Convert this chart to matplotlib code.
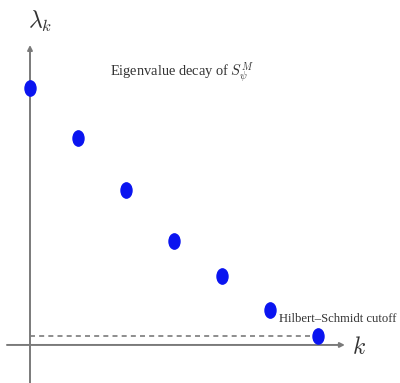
import matplotlib
matplotlib.use("Agg")
import matplotlib.pyplot as plt
from matplotlib.path import Path
from matplotlib.transforms import Affine2D
import numpy as np

plt.rcParams.update({
    "font.family": "serif",
    "font.serif": ["Liberation Serif", "DejaVu Serif"],
    "mathtext.fontset": "cm",
})

BLUE = "#0a14f0"
GREY = "#7a7a7a"

# data
k_index = [0, 1, 2, 3, 4, 5, 6]
eigenvalues = [1.0, 0.805, 0.603, 0.405, 0.268, 0.136, 0.035]
cutoff = 0.035

fig = plt.figure(figsize=(4.0, 3.83), dpi=100)
ax = fig.add_axes([0, 0, 1, 1])
ax.set_xlim(-0.625, 7.708)
ax.set_ylim(-0.148, 1.342)
ax.axis("off")

# axes with arrows
ax.annotate("", xy=(6.56, 0), xytext=(-0.48, 0),
            arrowprops=dict(arrowstyle="-|>", color=GREY, lw=1.4,
                            mutation_scale=7, shrinkA=0, shrinkB=0))
ax.annotate("", xy=(0, 1.167), xytext=(0, -0.148),
            arrowprops=dict(arrowstyle="-|>", color=GREY, lw=1.4,
                            mutation_scale=7, shrinkA=0, shrinkB=0))

# cutoff line
ax.plot([0, k_index[-1]], [cutoff, cutoff], color=GREY, lw=1.2,
        ls=(0, (3, 2.5)))

# slightly tall elliptical markers
ellipse = Path.unit_circle().transformed(Affine2D().scale(0.72, 1.0))
ax.plot(k_index, eigenvalues, ls="none", marker=ellipse, markersize=11,
        color=BLUE, zorder=3)

ax.text(0.22, 1.26, r"$\lambda_k$", fontsize=17, ha="center", va="center",
        color="#333333")
ax.text(6.85, -0.01, r"$k$", fontsize=17, ha="center", va="center",
        color="#333333")
ax.text(1.67, 1.06, r"Eigenvalue decay of $S_\psi^M$", fontsize=10.4,
        ha="left", va="center", color="#333333")
ax.text(5.19, 0.10, "Hilbert–Schmidt cutoff", fontsize=9.1,
        ha="left", va="center", color="#333333")

fig.savefig("out.png", dpi=100)
